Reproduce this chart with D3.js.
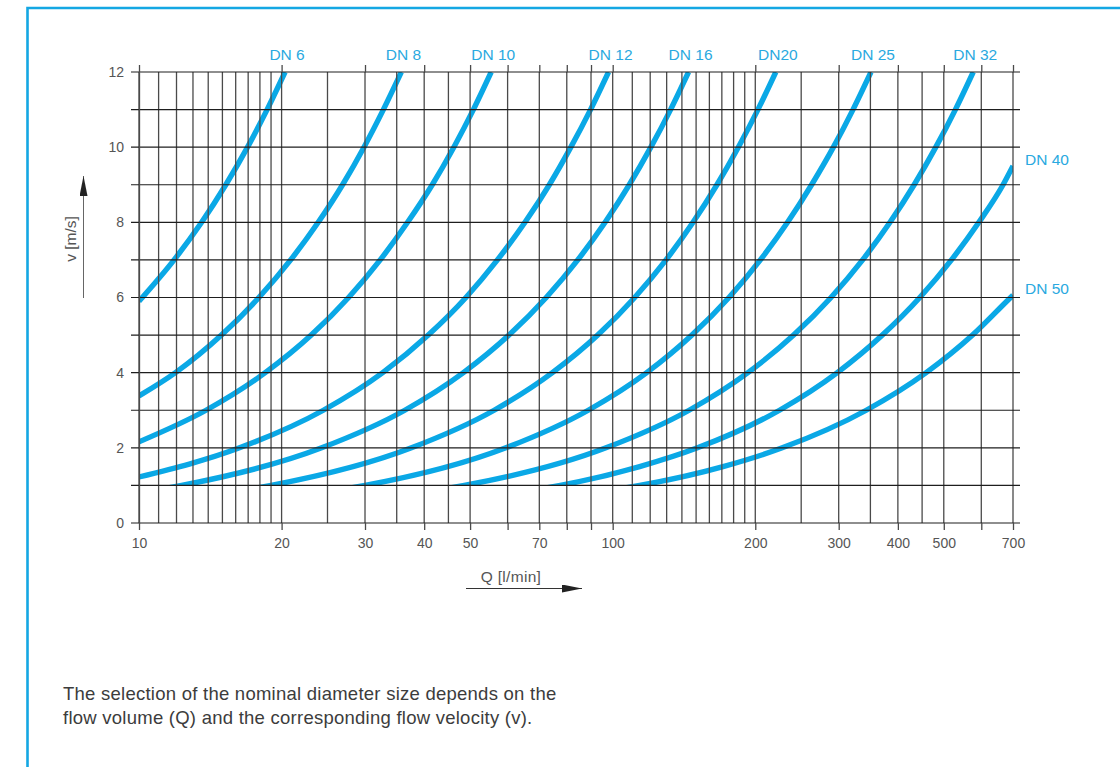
<!DOCTYPE html>
<html>
<head>
<meta charset="utf-8">
<script src="https://cdn.jsdelivr.net/npm/d3@7"></script>
<style>
  html, body { margin: 0; padding: 0; background: #fff; }
  svg { display: block; }
  text { font-family: "Liberation Sans", Arial, Helvetica, sans-serif; }
</style>
</head>
<body>
<svg id="chart" width="1120" height="767"></svg>
<script>
// ---------------- data ----------------
const categories = ["DN 6", "DN 8", "DN 10", "DN 12", "DN 16", "DN20", "DN 25", "DN 32", "DN 40", "DN 50"];

// [Q (l/min), v (m/s)] read at the grid crossings
const dn6  = [[10,5.9],[11.86,7],[13.56,8],[15.25,9],[16.95,10],[18.64,11],[20.34,12]];
const dn8  = [[10,3.38],[11.94,4],[14.93,5],[17.91,6],[20.9,7],[23.9,8],[26.9,9],[29.85,10],[32.8,11],[35.8,12]];
const dn10 = [[10,2.16],[13.85,3],[18.47,4],[23.1,5],[27.7,6],[32.3,7],[36.9,8],[41.6,9],[46.2,10],[50.8,11],[55.4,12]];
const dn12 = [[10,1.225],[16.3,2],[24.5,3],[32.7,4],[40.8,5],[49,6],[57.1,7],[65.3,8],[73.5,9],[81.6,10],[89.8,11],[98,12]];
const dn16 = [[11.6,0.94],[12.3,1],[24.3,2],[36.4,3],[48.4,4],[60.4,5],[72.4,6],[84.4,7],[96.4,8],[108.4,9],[120.4,10],[132.5,11],[144.6,12]];
const dn20 = [[17.9,0.94],[19.0,1],[37.6,2],[56.2,3],[74.6,4],[93,5],[111.3,6],[129.6,7],[147.8,8],[166,9],[184.2,10],[202.6,11],[221,12]];
const dn25 = [[28.2,0.94],[30,1],[59.5,2],[88.8,3],[118,4],[147,5],[176,6],[205,7],[234,8],[263,9],[292.4,10],[321.6,11],[351,12]];
const dn32 = [[45.7,0.94],[48.6,1],[96.8,2],[145,3],[193,4],[241,5],[289,6],[337,7],[385,8],[433,9],[481,10],[529,11],[577,12]];
const dn40 = [[72.9,0.94],[77.5,1],[114,1.5],[151,2],[225,3],[298,4],[371,5],[445,6],[519,7],[593,8],[667,9],[700,9.5]];
const dn50 = [[107,0.94],[114,1],[171,1.5],[228,2],[343,3],[459,4],[575,5],[692,6],[700,6.06]];
const seriesValues = [dn6, dn8, dn10, dn12, dn16, dn20, dn25, dn32, dn40, dn50];

const qGrid = [10,11,12,13,14,15,16,17,18,19,20,25,30,35,40,45,50,60,70,80,90,
               100,110,120,130,140,150,160,170,180,190,200,250,300,350,400,450,500,600,700];
const qTicks = [10,20,30,40,50,60,70,80,90,100,200,300,400,500,600,700];
const qTickLabels = [10,20,30,40,50,70,100,200,300,400,500,700];
const vTicks = [0,1,2,3,4,5,6,7,8,9,10,11,12];
const vTickLabels = [0,2,4,6,8,10,12];

const xTitle = "Q [l/min]";
const yTitle = "v [m/s]";
const caption = ["The selection of the nominal diameter size depends on the",
                 "flow volume (Q) and the corresponding flow velocity (v)."];

// ---------------- drawing ----------------
const svg = d3.select("#chart");
const x = d3.scaleLog().domain([10, 700]).range([139, 1013]);
const y = d3.scaleLinear().domain([0, 12]).range([523, 72]);

const BLUE = "#0aa8e6";
const LABEL_BLUE = "#2aa9e0";
const GRID_H = "#1e1e1e";
const GRID_V = "#4a4a4a";
const TXT = "#555";

// frame
svg.append("path")
  .attr("d", "M27.5,767 V8 H1120")
  .attr("fill", "none").attr("stroke", "#14a7e3").attr("stroke-width", 2.6);

// clip for curves
const defs = svg.append("defs");
defs.append("clipPath").attr("id", "plotclip")
  .append("rect")
  .attr("x", x(10)).attr("y", y(12))
  .attr("width", x(700) - x(10)).attr("height", y(1) - y(12) + 0.5);

const line = d3.line()
  .x(d => x(d[0])).y(d => y(d[1]))
  .curve(d3.curveMonotoneX);

svg.append("g").attr("clip-path", "url(#plotclip)")
  .selectAll("path").data(seriesValues).join("path")
  .attr("d", line)
  .attr("fill", "none")
  .attr("stroke", BLUE)
  .attr("stroke-width", 5.4);

// vertical grid
svg.append("g").selectAll("line").data(qGrid).join("line")
  .attr("x1", d => x(d)).attr("x2", d => x(d))
  .attr("y1", y(12)).attr("y2", y(0))
  .attr("stroke", GRID_V).attr("stroke-width", 1.3);

// horizontal grid (extends past both sides)
svg.append("g").selectAll("line").data(vTicks).join("line")
  .attr("x1", 131).attr("x2", 1020)
  .attr("y1", d => y(d)).attr("y2", d => y(d))
  .attr("stroke", GRID_H).attr("stroke-width", 1.1);

// bottom axis
const gx = svg.append("g").attr("transform", `translate(0,${y(0)})`)
  .call(d3.axisBottom(x).tickValues(qTicks).tickSize(7).tickPadding(8)
    .tickFormat(d => qTickLabels.includes(d) ? d : ""));
gx.select(".domain").remove();
gx.selectAll(".tick line").attr("stroke", GRID_V).attr("stroke-width", 1.3);
gx.selectAll(".tick text").attr("fill", TXT).attr("font-size", 14);

// top axis (tick marks only)
const gxt = svg.append("g").attr("transform", `translate(0,${y(12)})`)
  .call(d3.axisTop(x).tickValues(qTicks).tickSize(7).tickFormat(""));
gxt.select(".domain").remove();
gxt.selectAll(".tick line").attr("stroke", GRID_V).attr("stroke-width", 1.3);

// left axis
const gy = svg.append("g").attr("transform", `translate(${x(10)},0)`)
  .call(d3.axisLeft(y).tickValues(vTicks).tickSize(0).tickPadding(15)
    .tickFormat(d => vTickLabels.includes(d) ? d : ""));
gy.select(".domain").attr("stroke", GRID_V).attr("stroke-width", 1.3);
gy.selectAll(".tick text").attr("fill", TXT).attr("font-size", 14);

// curve labels
seriesValues.forEach((s, i) => {
  const last = s[s.length - 1];
  if (last[1] >= 12) {
    svg.append("text")
      .attr("x", x(last[0]) + 2).attr("y", 60)
      .attr("text-anchor", "middle")
      .attr("fill", LABEL_BLUE).attr("font-size", 15.5)
      .text(categories[i]);
  } else {
    svg.append("text")
      .attr("x", 1025).attr("y", y(last[1]) - 5)
      .attr("dominant-baseline", "middle")
      .attr("fill", LABEL_BLUE).attr("font-size", 15.5)
      .text(categories[i]);
  }
});

// arrowheads
defs.append("marker").attr("id", "arr")
  .attr("viewBox", "0 0 20 8").attr("refX", 20).attr("refY", 4)
  .attr("markerUnits", "userSpaceOnUse")
  .attr("markerWidth", 20).attr("markerHeight", 8)
  .attr("orient", "auto")
  .append("path").attr("d", "M0,0 L20,4 L0,8 Z").attr("fill", "#222");

// x title + arrow
svg.append("text").attr("x", 511).attr("y", 582)
  .attr("text-anchor", "middle").attr("fill", TXT).attr("font-size", 15.5)
  .attr("letter-spacing", 0.3)
  .text(xTitle);
svg.append("line").attr("x1", 466).attr("x2", 582).attr("y1", 588.5).attr("y2", 588.5)
  .attr("stroke", "#333").attr("stroke-width", 1).attr("marker-end", "url(#arr)");

// y title + arrow
svg.append("text")
  .attr("transform", "translate(76,239) rotate(-90)")
  .attr("text-anchor", "middle").attr("fill", TXT).attr("font-size", 15.5)
  .text(yTitle);
svg.append("line").attr("x1", 83.5).attr("x2", 83.5).attr("y1", 298).attr("y2", 176)
  .attr("stroke", "#666").attr("stroke-width", 1).attr("marker-end", "url(#arr)");

// caption
svg.append("g").selectAll("text").data(caption).join("text")
  .attr("x", 63).attr("y", (d, i) => 700 + i * 23.5)
  .attr("fill", "#3c3c3c").attr("font-size", 18.5)
  .attr("letter-spacing", 0.25)
  .text(d => d);
</script>
</body>
</html>
